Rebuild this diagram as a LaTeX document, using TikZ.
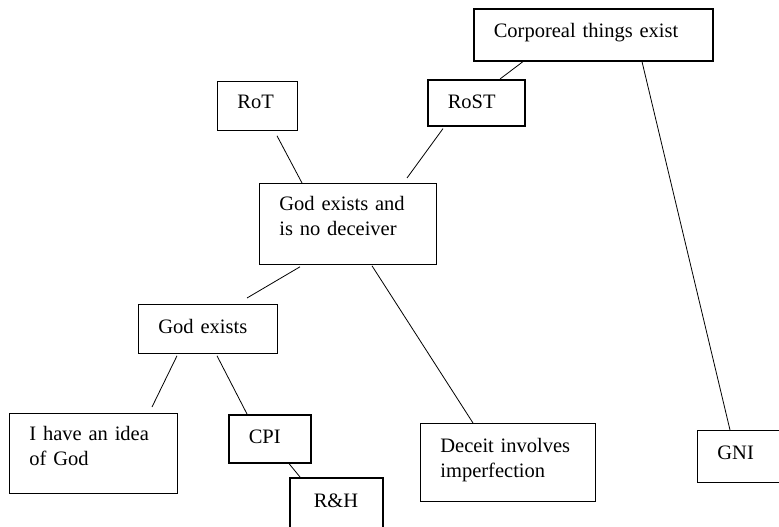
\documentclass[tikz,border=0pt]{standalone}
\usepackage{fontspec}
\setmainfont{Liberation Serif}
\usepackage{tikz}
\tikzset{
  claim/.style={draw,rectangle,anchor=north west,align=left,inner xsep=20pt,inner ysep=0pt,
    line width=0.8pt,font=\fontsize{20.5}{25}\selectfont},
  keyclaim/.style={claim,line width=1.6pt}
}
\newcommand{\claim}[4][]{\node[claim,#1] at (#2) (#3) {#4}}

\begin{document}
\begin{tikzpicture}[x=1pt,y=-1pt]
  \useasboundingbox (0,0) rectangle (779,527);
  \clip (0,0) rectangle (779,527);
  \claim[keyclaim,text width=199pt,text height=29pt,text depth=23pt]{473,8}{corp}{Corporeal things exist};
  \claim[text width=40pt,text height=27pt,text depth=22pt]{217,81}{rot}{RoT};
  \claim[keyclaim,text width=57pt,text height=29pt,text depth=17pt]{427,79}{rost}{RoST};
  \claim[text width=137pt,text height=27pt,text depth=54pt]{259,183}{gend}{God exists and\\is no deceiver};
  \claim[text width=99pt,text height=29pt,text depth=20pt]{138,304}{gex}{God exists};
  \claim[text width=128pt,text height=27pt,text depth=53pt]{9,413}{idea}{I have an idea\\of God};
  \claim[keyclaim,text width=42pt,text height=29pt,text depth=19pt]{228,414}{cpi}{CPI};
  \claim[keyclaim,inner xsep=24pt,text width=45pt,text height=30pt,text depth=40pt]{289,477}{rh}{R\&H};
  \claim[text width=135pt,text height=29pt,text depth=49pt]{420,423}{dec}{Deceit involves\\imperfection};
  \claim[text width=70pt,text height=29pt,text depth=23pt]{697,430}{gni}{GNI};
  \draw[line width=0.8pt]
        ([xshift=73pt]rost.north west) -- ([xshift=50pt]corp.south west)
        ([xshift=169pt]corp.south west) -- ([xshift=33pt]gni.north west)
        ([xshift=60pt,yshift=-5pt]rot.south west) -- ([xshift=43pt]gend.north west)
        ([xshift=16pt,yshift=-2pt]rost.south west) -- ([xshift=148pt,yshift=5pt]gend.north west)
        ([xshift=41pt,yshift=-2pt]gend.south west) -- ([xshift=109pt,yshift=6pt]gex.north west)
        ([xshift=113pt,yshift=-1pt]gend.south west) -- ([xshift=53pt]dec.north west)
        ([xshift=39pt,yshift=-2pt]gex.south west) -- ([xshift=143pt,yshift=6pt]idea.north west)
        ([xshift=79pt,yshift=-2pt]gex.south west) -- ([xshift=19pt]cpi.north west)
        ([xshift=61pt]cpi.south west) -- ([xshift=11pt]rh.north west);
\end{tikzpicture}
\end{document}
